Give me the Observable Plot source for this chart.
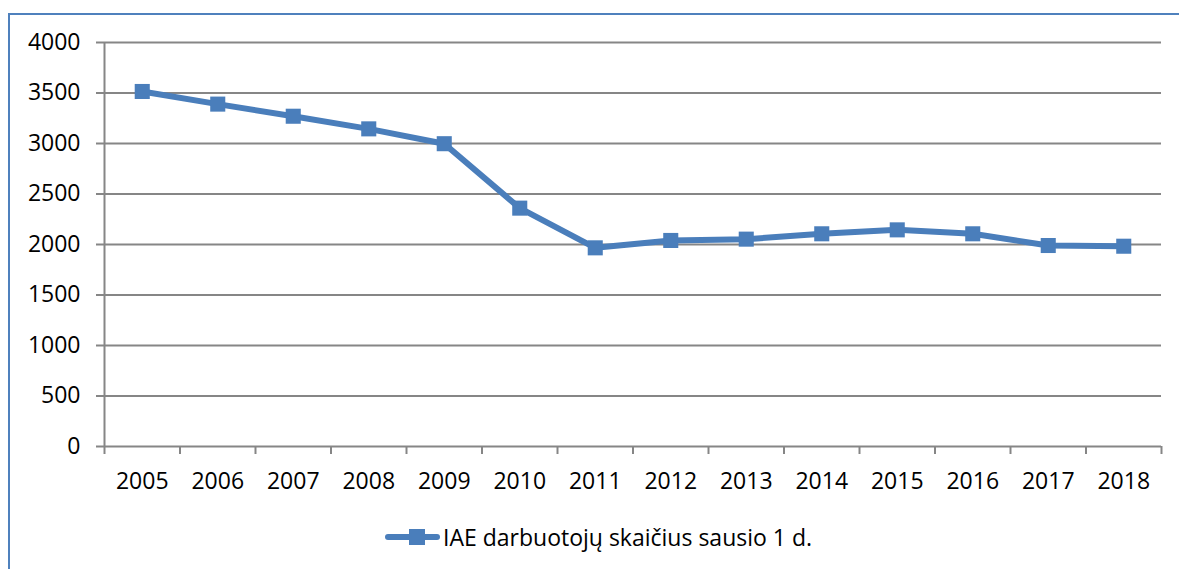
<!DOCTYPE html>
<html>
<head>
<meta charset="utf-8">
<script src="https://cdn.jsdelivr.net/npm/d3@7"></script>
<script src="https://cdn.jsdelivr.net/npm/@observablehq/plot@0.6"></script>
<style>
  html, body { margin: 0; padding: 0; background: #fff; }
  body { width: 1179px; height: 569px; position: relative; overflow: hidden; font-family: "Open Sans", sans-serif; }
  #frame { position: absolute; left: 8px; top: 13px; width: 1200px; height: 600px; border-left: 2px solid #4F81BD; border-top: 2px solid #4F81BD; box-sizing: border-box; }
  #chart { position: absolute; left: 0; top: 0; }
  #legend { position: absolute; left: 385px; top: 522px; height: 30px; display: flex; align-items: center; font-size: 23px; color: #000; }
  .lg-key { position: relative; width: 55px; height: 30px; margin-right: 3px; }
  .lg-line { position: absolute; left: 0; right: 0; top: 12px; height: 6px; background: #4A7EBB; border-radius: 3px; }
  .lg-sq { position: absolute; left: 24px; top: 7px; width: 16px; height: 16px; background: #4A7EBB; }
</style>
</head>
<body>
<div id="frame"></div>
<div id="chart"></div>
<div id="legend"><div class="lg-key"><div class="lg-line"></div><div class="lg-sq"></div></div><span id="lg-text"></span></div>
<script>
const years = [2005, 2006, 2007, 2008, 2009, 2010, 2011, 2012, 2013, 2014, 2015, 2016, 2017, 2018];
const values = [3515, 3390, 3270, 3145, 2998, 2360, 1967, 2040, 2053, 2106, 2145, 2106, 1990, 1983];
const yTicks = [0, 500, 1000, 1500, 2000, 2500, 3000, 3500, 4000];
const seriesName = "IAE darbuotojų skaičius sausio 1 d.";

const data = years.map((y, i) => ({year: y, value: values[i]}));
const bounds = years.map(y => y - 0.5).concat([years[years.length - 1] + 0.5]);
const blue = "#4A7EBB";
const grid = "#868686";

const chart = Plot.plot({
  width: 1179,
  height: 500,
  marginTop: 42,
  marginBottom: 54,
  marginLeft: 104,
  marginRight: 18,
  style: {fontFamily: "'Open Sans', sans-serif", fontSize: "23px", color: "#000", background: "transparent", overflow: "visible"},
  x: {domain: [bounds[0], bounds[bounds.length - 1]], axis: null},
  y: {domain: [0, 4000], axis: null},
  marks: [
    Plot.ruleY(yTicks, {stroke: grid, strokeWidth: 2, insetLeft: -8}),
    Plot.ruleX([bounds[0]], {stroke: grid, strokeWidth: 2}),
    Plot.axisX({ticks: bounds, tickSize: 8, tickFormat: () => "", stroke: grid, strokeWidth: 2, strokeOpacity: 1, label: null}),
    Plot.axisX({ticks: years, tickSize: 0, tickPadding: 26, tickFormat: d => String(d), fill: "#000", label: null}),
    Plot.axisY({ticks: yTicks, tickSize: 0, tickPadding: 24, tickFormat: d => String(d), fill: "#000", label: null}),
    Plot.line(data, {x: "year", y: "value", stroke: blue, strokeWidth: 6, strokeLinejoin: "round"}),
    Plot.dot(data, {x: "year", y: "value", symbol: "square", r: 8.5, fill: blue, stroke: null})
  ]
});
document.getElementById("chart").appendChild(chart);
document.getElementById("lg-text").textContent = seriesName;
</script>
</body>
</html>
